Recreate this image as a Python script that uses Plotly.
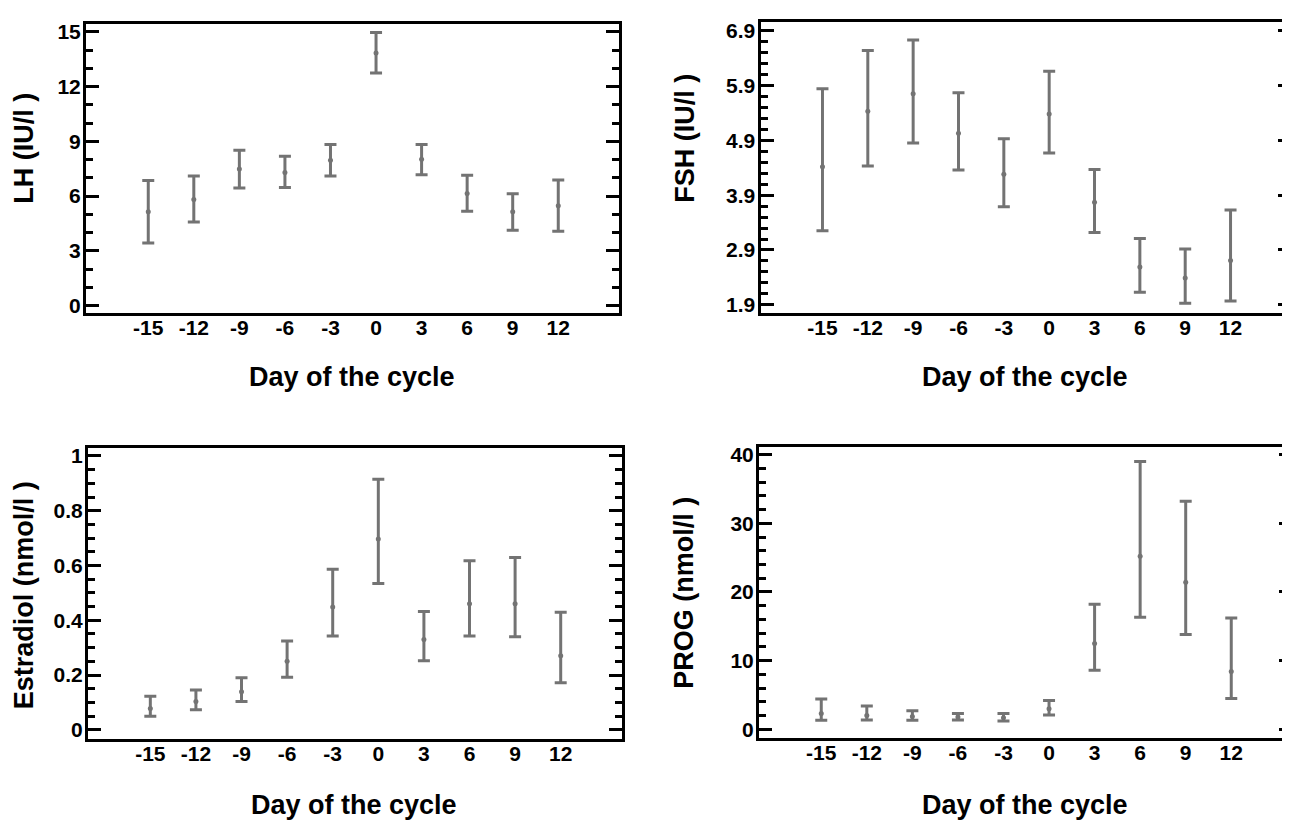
import plotly.graph_objects as go

days = [-15, -12, -9, -6, -3, 0, 3, 6, 9, 12]

lh_mean = [5.14, 5.82, 7.48, 7.30, 7.97, 13.84, 8.02, 6.15, 5.14, 5.48]
lh_low = [3.43, 4.58, 6.45, 6.47, 7.10, 12.74, 7.17, 5.17, 4.13, 4.08]
lh_high = [6.85, 7.10, 8.51, 8.18, 8.83, 14.96, 8.83, 7.14, 6.13, 6.89]

fsh_mean = [4.42, 5.43, 5.75, 5.03, 4.28, 5.38, 3.77, 2.59, 2.39, 2.71]
fsh_low = [3.25, 4.43, 4.85, 4.36, 3.69, 4.67, 3.22, 2.13, 1.93, 1.97]
fsh_high = [5.84, 6.54, 6.73, 5.77, 4.93, 6.16, 4.37, 3.11, 2.92, 3.63]

e2_mean = [0.078, 0.103, 0.139, 0.250, 0.448, 0.697, 0.330, 0.460, 0.460, 0.270]
e2_low = [0.050, 0.073, 0.103, 0.192, 0.343, 0.534, 0.252, 0.343, 0.340, 0.172]
e2_high = [0.123, 0.145, 0.190, 0.324, 0.586, 0.915, 0.432, 0.617, 0.629, 0.429]

prog_mean = [2.3, 2.0, 1.87, 1.77, 1.68, 2.98, 12.5, 25.2, 21.4, 8.4]
prog_low = [1.3, 1.35, 1.3, 1.35, 1.2, 2.06, 8.6, 16.3, 13.8, 4.47]
prog_high = [4.4, 3.4, 2.7, 2.3, 2.3, 4.18, 18.2, 39.0, 33.2, 16.2]

y_titles = ["LH (IU/l )", "FSH (IU/l )", "Estradiol (nmol/l )", "PROG (nmol/l )"]
x_title = "Day of the cycle"

W, H = 1290, 823
GRAY = "#737373"
FONT = "Liberation Sans, Arial, sans-serif"

panels = [
    dict(mean=lh_mean, low=lh_low, high=lh_high, px=(78, 611), py=(12, 304),
         yr=[-0.40, 15.43], tick0=0, dtick=3, mdtick=1, fmt=None),
    dict(mean=fsh_mean, low=fsh_low, high=fsh_high, px=(752.5, 1283), py=(10, 304),
         yr=[1.75, 7.06], tick0=1.9, dtick=1, mdtick=0.2, fmt=".1f"),
    dict(mean=e2_mean, low=e2_low, high=e2_high, px=(80, 613.5), py=(440, 734),
         yr=[-0.033, 1.03], tick0=0, dtick=0.2, mdtick=0.05, fmt=None),
    dict(mean=prog_mean, low=prog_low, high=prog_high, px=(751, 1284), py=(439, 733),
         yr=[-1.26, 41.16], tick0=0, dtick=10, mdtick=2, fmt=None),
]

ytitle_pos = [(16, 138), (677, 128), (16, 589), (676, 586.5)]
xtitle_pos = [(344, 369), (1017, 369), (346, 801), (1017, 801)]

fig = go.Figure()
layout = dict(
    width=W, height=H, margin=dict(l=0, r=0, t=0, b=0),
    paper_bgcolor="white", plot_bgcolor="white", showlegend=False,
    font=dict(family=FONT, size=21, color="black", weight="bold"),
    annotations=[],
)

for i, p in enumerate(panels):
    n = "" if i == 0 else str(i + 1)
    err_plus = [h - m for h, m in zip(p["high"], p["mean"])]
    err_minus = [m - l for m, l in zip(p["mean"], p["low"])]
    fig.add_trace(go.Scatter(
        x=days, y=p["mean"], mode="markers",
        marker=dict(size=5, color=GRAY),
        error_y=dict(type="data", symmetric=False, array=err_plus, arrayminus=err_minus,
                     color=GRAY, thickness=3, width=6),
        xaxis="x" + n, yaxis="y" + n, cliponaxis=False,
    ))
    x0, x1 = p["px"]
    y0, y1 = p["py"]
    layout["xaxis" + n] = dict(
        domain=[x0 / W, x1 / W], anchor="y" + n, range=[-19.1, 16.0],
        tickmode="array", tickvals=days, ticktext=[str(d) for d in days],
        ticks="", showline=True, linecolor="black", linewidth=3, mirror=True,
        showgrid=False, zeroline=False, ticklabelstandoff=-6,
        tickfont=dict(family=FONT, size=21, color="black", weight="bold"),
    )
    yax = dict(
        domain=[1 - y1 / H, 1 - y0 / H], anchor="x" + n, range=p["yr"],
        tickmode="linear", tick0=p["tick0"], dtick=p["dtick"],
        ticks="inside", ticklen=13, tickwidth=3, tickcolor="black",
        minor=dict(tickmode="linear", tick0=p["tick0"], dtick=p["mdtick"], ticks="inside",
                   ticklen=7, tickwidth=3, tickcolor="black", showgrid=False),
        showline=True, linecolor="black", linewidth=3, mirror="allticks",
        showgrid=False, zeroline=False, ticklabelstandoff=-2,
        tickfont=dict(family=FONT, size=21, color="black", weight="bold"),
    )
    if p["fmt"]:
        yax["tickformat"] = p["fmt"]
    layout["yaxis" + n] = yax

    tx, ty = ytitle_pos[i]
    layout["annotations"].append(dict(
        text=y_titles[i], x=tx / W, y=1 - ty / H, xref="paper", yref="paper",
        xanchor="center", yanchor="middle", textangle=-90, showarrow=False,
        font=dict(family=FONT, size=27, color="black", weight="bold"),
    ))
    cx, cy = xtitle_pos[i]
    layout["annotations"].append(dict(
        text=x_title, x=cx / W, y=1 - cy / H, xref="paper", yref="paper",
        xanchor="center", yanchor="middle", showarrow=False,
        font=dict(family=FONT, size=27, color="black", weight="bold"),
    ))

fig.update_layout(**layout)
fig.write_html("out.html")
